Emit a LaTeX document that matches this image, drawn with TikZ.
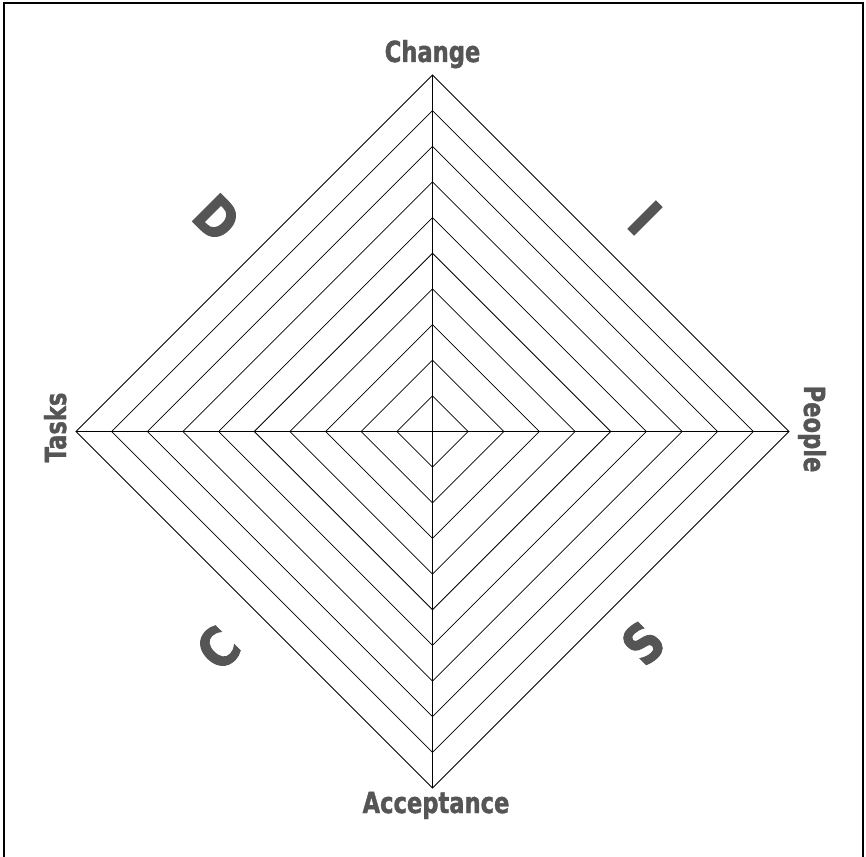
\documentclass[tikz,border=0pt]{standalone}
\usepackage{fontspec}
\usetikzlibrary{calc}
\newfontfamily\labfont{DejaVu Sans}[FakeStretch=0.78, BoldFeatures={FakeBold=1.3}]
\newfontfamily\bigfont{DejaVu Sans}[FakeStretch=0.85, BoldFeatures={FakeBold=2}]
\definecolor{labgrey}{HTML}{555555}
\tikzset{
  axislabel/.style={inner sep=0pt, anchor=base, text=labgrey, font=\labfont\bfseries\fontsize{29}{30}\selectfont},
  bigletter/.style={inner sep=0pt, anchor=center, text=labgrey, font=\bigfont\bfseries\fontsize{54}{56}\selectfont},
  ringline/.style={draw=black, line width=0.75pt},
  framestyle/.style={draw=black, line width=1.4pt}
}
\begin{document}
\begin{tikzpicture}[x=1pt,y=-1pt]
\useasboundingbox (0,0) rectangle (866,856);
\fill[white] (0,0) rectangle (866,856);
\draw[framestyle] (4,870) -- (4,3) -- (863,3) -- (863,870);
\coordinate (O) at (432.5,431.5);
\foreach \k in {1,...,10}{
  \pgfmathsetmacro{\r}{35.65*\k}
  \draw[ringline] ($(O)+(0,-\r)$) -- ($(O)+(\r,0)$) -- ($(O)+(0,\r)$) -- ($(O)+(-\r,0)$) -- cycle;
}
\coordinate (T) at ($(O)+(0,-356.5)$);
\coordinate (B) at ($(O)+(0,356.5)$);
\coordinate (L) at ($(O)+(-356.5,0)$);
\coordinate (R) at ($(O)+(356.5,0)$);
\draw[ringline] (T) -- (B);
\draw[ringline] (L) -- (R);
\node[axislabel] (change) at (432.5,62) {Change};
\node[axislabel] (accept) at (436,813) {Acceptance};
\node[axislabel, rotate=90] (tasks) at (66,427.5) {Tasks};
\node[axislabel, rotate=-90] (people) at (804,429) {People};
\node[bigletter, rotate=-45] (d) at (217,218) {D};
\node[bigletter, rotate=-45] (i) at (645,218) {I};
\node[bigletter, rotate=45] (c) at (218,648) {C};
\node[bigletter, rotate=45] (s) at (643,643) {S};
\end{tikzpicture}
\end{document}
